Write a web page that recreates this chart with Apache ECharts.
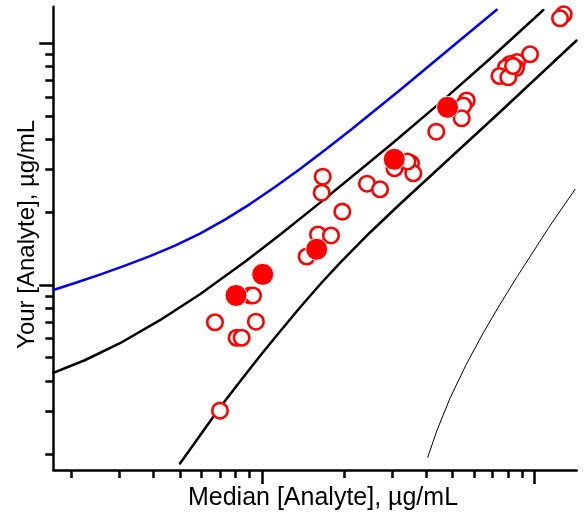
<!DOCTYPE html>
<html>
<head>
<meta charset="utf-8">
<script src="https://cdn.jsdelivr.net/npm/echarts@6/dist/echarts.min.js"></script>
<style>html,body{margin:0;padding:0;background:#fff}#c{width:585px;height:516px}</style>
</head>
<body>
<div id="c"></div>
<script>
// Axis ranges (log scales)
const xMin = 0.1713, xMax = 14.31;
const yMin = 0.1716, yMax = 14.17;
const majorTicks = [1, 10];
const minorTicks = [0.2, 0.3, 0.4, 0.5, 0.6, 0.7, 0.8, 0.9, 2, 3, 4, 5, 6, 7, 8, 9];

// Open-circle results
const openX = [0.672, 0.950, 0.807, 0.842, 0.701, 0.904, 0.927, 1.459, 1.606, 1.792, 1.671, 1.657, 1.972, 2.430, 2.713, 3.066, 3.526, 3.595, 3.422, 4.365, 5.646, 5.487, 5.413, 9.643, 8.640, 8.143, 7.872, 8.566, 7.450, 8.026, 8.352, 12.82, 12.43];
const openY = [0.701, 0.705, 0.605, 0.605, 0.302, 0.905, 0.905, 1.312, 1.618, 1.603, 2.806, 2.409, 2.011, 2.625, 2.488, 3.040, 3.188, 2.898, 3.243, 4.308, 5.799, 5.529, 4.894, 9.006, 8.368, 8.211, 7.941, 7.903, 7.322, 7.233, 8.055, 13.18, 12.69];
// Filled-circle results
const filledX = [0.803, 1.006, 1.588, 3.059, 4.800];
const filledY = [0.905, 1.107, 1.405, 3.312, 5.435];

// Limit curves
const blueX = [0.1713, 0.2057, 0.2541, 0.3140, 0.3879, 0.4792, 0.5920, 0.7314, 0.9035, 1.1163, 1.3790, 1.7034, 2.1048, 3.2132, 4.9010, 7.2762];
const blueY = [0.9535, 1.0192, 1.1043, 1.2031, 1.3168, 1.4555, 1.6318, 1.8649, 2.1612, 2.5416, 3.0175, 3.6149, 4.3532, 6.4036, 9.5079, 13.760];
const upperX = [0.1713, 0.2235, 0.3011, 0.4220, 0.5920, 0.8662, 1.1645, 1.6568, 2.2909, 3.0527, 4.5048, 6.8777, 10.791];
const upperY = [0.4325, 0.4882, 0.5742, 0.7150, 0.9160, 1.2475, 1.6133, 2.2176, 2.9917, 3.9043, 5.6668, 8.6279, 13.734];
const lowerX = [0.5000, 0.5920, 0.7011, 0.8303, 0.9832, 1.1645, 1.3790, 1.6331, 1.9341, 2.4930, 3.2132, 4.3919, 7.4823, 14.289];
const lowerY = [0.1826, 0.2384, 0.3113, 0.3988, 0.5084, 0.6421, 0.8070, 1.0048, 1.2333, 1.6490, 2.1633, 2.9917, 5.1972, 10.270];
const thinX = [4.0610, 4.3919, 4.9010, 5.6137, 6.4966, 7.4823, 8.6176, 11.420, 14.109];
const thinY = [0.1937, 0.2505, 0.3396, 0.4675, 0.6342, 0.8313, 1.0761, 1.7597, 2.4865];

const xTitle = 'Median [Analyte], µg/mL';
const yTitle = 'Your [Analyte], µg/mL';

const zip = (a, b) => a.map((v, i) => [v, b[i]]);
const font = 'Liberation Sans, Arial, sans-serif';

function mkAxis(isX, main) {
  const ax = {
    type: 'log', logBase: 10,
    min: isX ? xMin : yMin, max: isX ? xMax : yMax,
    position: isX ? 'bottom' : 'left',
    axisLine: { show: main, lineStyle: { color: '#000', width: 2.5 } },
    axisTick: { show: true, customValues: main ? majorTicks : minorTicks, length: main ? 14 : 8, lineStyle: { color: '#000', width: 2.5 } },
    axisLabel: { show: false },
    splitLine: { show: false },
    minorTick: { show: false },
    minorSplitLine: { show: false }
  };
  if (main) {
    ax.name = isX ? xTitle : yTitle;
    ax.nameLocation = 'middle';
    ax.nameGap = isX ? 16 : 14;
    ax.nameTextStyle = { fontFamily: font, fontSize: isX ? 25 : 24, color: '#000',
      padding: isX ? [0, 0, 0, 16] : [0, 0, 0, 8] };
  }
  return ax;
}

function curve(xs, ys, color, width) {
  return { type: 'line', data: zip(xs, ys), showSymbol: false, smooth: false,
    lineStyle: { color: color, width: width, join: 'round', cap: 'round' }, z: 2 };
}

const chart = echarts.init(document.getElementById('c'), null, { renderer: 'canvas' });
chart.setOption({
  animation: false,
  grid: { left: 53.3, right: 8.3, top: 6.7, bottom: 46, containLabel: false, outerBoundsMode: 'none' },
  xAxis: [mkAxis(true, true), mkAxis(true, false)],
  yAxis: [mkAxis(false, true), mkAxis(false, false)],
  series: [
    curve(blueX, blueY, '#0000ff', 2.5),
    curve(upperX, upperY, '#000', 2.5),
    curve(lowerX, lowerY, '#000', 2.5),
    curve(thinX, thinY, '#000', 1),
    { type: 'scatter', data: zip(openX, openY), symbol: 'circle', symbolSize: 15.5,
      itemStyle: { color: '#fff', borderColor: '#ff0000', borderWidth: 2.6, opacity: 1 }, z: 3 },
    { type: 'scatter', data: zip(filledX, filledY), symbol: 'circle', symbolSize: 22,
      itemStyle: { color: '#ff0000', borderColor: '#fff', borderWidth: 1, opacity: 1 }, z: 4 }
  ]
});
</script>
</body>
</html>
